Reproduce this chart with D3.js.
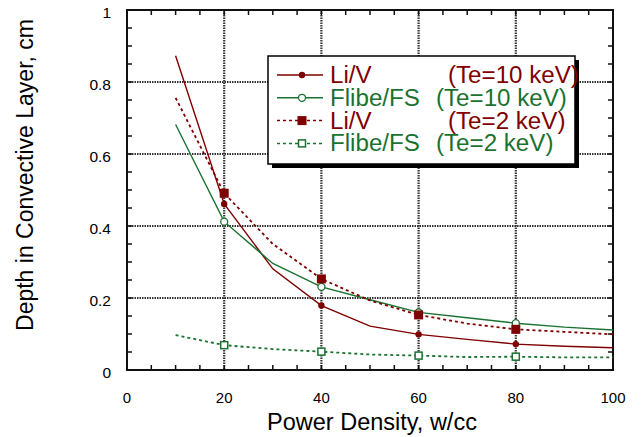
<!DOCTYPE html>
<html>
<head>
<meta charset="utf-8">
<script src="https://cdn.jsdelivr.net/npm/d3@7"></script>
<style>
  body { margin: 0; background: #fff; }
  text { font-family: "Liberation Sans", Arial, sans-serif; }
</style>
</head>
<body>
<div id="chart"></div>
<script>
// Data
const powerDensity = [10, 20, 30, 40, 50, 60, 70, 80, 90, 100];
const liV10 = [0.873, 0.461, 0.281, 0.179, 0.122, 0.099, 0.085, 0.072, 0.066, 0.062];
const flibe10 = [0.682, 0.412, 0.296, 0.231, 0.195, 0.160, 0.145, 0.130, 0.119, 0.111];
const liV2 = [0.756, 0.491, 0.350, 0.253, 0.193, 0.153, 0.129, 0.113, 0.106, 0.099];
const flibe2 = [0.097, 0.069, 0.058, 0.051, 0.043, 0.040, 0.036, 0.037, 0.035, 0.035];
const markerAt = [20, 40, 60, 80];

const xTicks = [0, 20, 40, 60, 80, 100];
const yTicks = [0, 0.2, 0.4, 0.6, 0.8, 1];
const yTickLabels = ["0", "0.2", "0.4", "0.6", "0.8", "1"];

const legendNames = ["Li/V", "Flibe/FS", "Li/V", "Flibe/FS"];
const legendTemps = ["(Te=10 keV)", "(Te=10 keV)", "(Te=2 keV)", "(Te=2 keV)"];

const red = "#7f0000";
const green = "#1a7230";

const series = [
  { values: liV10, color: red, dash: null, marker: "dot" },
  { values: flibe10, color: green, dash: null, marker: "ring" },
  { values: liV2, color: red, dash: "3,3", marker: "square" },
  { values: flibe2, color: green, dash: "3,3", marker: "box" }
];

// Chart dimensions
const W = 643, H = 437;
const margin = { top: 10, right: 30, bottom: 67, left: 127 };
const width = W - margin.left - margin.right;
const height = H - margin.top - margin.bottom;

const svg = d3.select("#chart").append("svg")
  .attr("width", W)
  .attr("height", H);

const g = svg.append("g")
  .attr("transform", `translate(${margin.left},${margin.top})`);

const x = d3.scaleLinear().domain([0, 100]).range([0, width]);
const y = d3.scaleLinear().domain([0, 1]).range([height, 0]);

// Dotted grid lines at the inner major ticks
const gridStyle = sel => sel.attr("stroke", "#333").attr("stroke-width", 2.2).attr("stroke-dasharray", "1.5,1");
g.selectAll(".vgrid").data(xTicks.slice(1, -1)).enter().append("line")
  .attr("x1", d => x(d)).attr("x2", d => x(d))
  .attr("y1", 0).attr("y2", height)
  .call(gridStyle);
g.selectAll(".hgrid").data(yTicks.slice(1, -1)).enter().append("line")
  .attr("x1", 0).attr("x2", width)
  .attr("y1", d => y(d)).attr("y2", d => y(d))
  .call(gridStyle);

// Minor ticks pointing inward on all four sides
const xMinor = d3.range(0, 101, 5);
const yMinor = d3.range(0, 1.001, 0.05);
const tl = 5;
g.selectAll(".xtb").data(xMinor).enter().append("line")
  .attr("x1", d => x(d)).attr("x2", d => x(d))
  .attr("y1", height).attr("y2", height - tl)
  .attr("stroke", "#111").attr("stroke-width", 1.5);
g.selectAll(".xtt").data(xMinor).enter().append("line")
  .attr("x1", d => x(d)).attr("x2", d => x(d))
  .attr("y1", 0).attr("y2", tl)
  .attr("stroke", "#111").attr("stroke-width", 1.5);
g.selectAll(".ytl").data(yMinor).enter().append("line")
  .attr("x1", 0).attr("x2", tl)
  .attr("y1", d => y(d)).attr("y2", d => y(d))
  .attr("stroke", "#111").attr("stroke-width", 1.5);
g.selectAll(".ytr").data(yMinor).enter().append("line")
  .attr("x1", width).attr("x2", width - tl)
  .attr("y1", d => y(d)).attr("y2", d => y(d))
  .attr("stroke", "#111").attr("stroke-width", 1.5);

// Plot frame
g.append("rect")
  .attr("x", 0).attr("y", 0)
  .attr("width", width).attr("height", height)
  .attr("fill", "none")
  .attr("stroke", "#111")
  .attr("stroke-width", 2);

// Tick labels
g.selectAll(".xlab").data(xTicks).enter().append("text")
  .attr("x", d => x(d))
  .attr("y", height + 33)
  .attr("text-anchor", "middle")
  .attr("font-size", 15)
  .text(d => d);
g.selectAll(".ylab").data(yTicks).enter().append("text")
  .attr("x", -16)
  .attr("y", d => y(d) + 8)
  .attr("text-anchor", "end")
  .attr("font-size", 15.5)
  .text((d, i) => yTickLabels[i]);

// Axis titles
svg.append("text")
  .attr("x", margin.left + width / 2 + 2)
  .attr("y", 430)
  .attr("text-anchor", "middle")
  .attr("font-size", 23.5)
  .text("Power Density, w/cc");
svg.append("text")
  .attr("transform", "translate(33,175) rotate(-90)")
  .attr("text-anchor", "middle")
  .attr("font-size", 23)
  .text("Depth in Convective Layer, cm");

// Series lines
const line = d3.line()
  .x((d, i) => x(powerDensity[i]))
  .y(d => y(d));

function drawMarker(sel, type, color) {
  if (type === "dot") {
    sel.append("circle").attr("r", 3.2).attr("fill", color);
  } else if (type === "ring") {
    sel.append("circle").attr("r", 3.5).attr("fill", "#fff").attr("stroke", color).attr("stroke-width", 1.3);
  } else if (type === "square") {
    sel.append("rect").attr("x", -4.5).attr("y", -4.5).attr("width", 9).attr("height", 9).attr("fill", color);
  } else {
    sel.append("rect").attr("x", -3.5).attr("y", -3.5).attr("width", 7).attr("height", 7)
      .attr("fill", "#fff").attr("stroke", color).attr("stroke-width", 1.5);
  }
}

series.forEach(s => {
  g.append("path")
    .attr("d", line(s.values))
    .attr("fill", "none")
    .attr("stroke", s.color)
    .attr("stroke-width", s.dash ? 1.8 : 1.4)
    .attr("stroke-dasharray", s.dash);
  markerAt.forEach(p => {
    const i = powerDensity.indexOf(p);
    const m = g.append("g").attr("transform", `translate(${x(p)},${y(s.values[i])})`);
    drawMarker(m, s.marker, s.color);
  });
});

// Legend box with drop shadow
const lg = svg.append("g").attr("transform", "translate(268,56)");
const lw = 307, lh = 108;
lg.append("rect").attr("x", 4).attr("y", 4).attr("width", lw).attr("height", lh).attr("fill", "#000");
lg.append("rect").attr("x", 0).attr("y", 0).attr("width", lw).attr("height", lh)
  .attr("fill", "#fff").attr("stroke", "#000").attr("stroke-width", 1.5);

series.forEach((s, i) => {
  const ry = 19 + i * 22.8;
  lg.append("line")
    .attr("x1", 9).attr("x2", 55)
    .attr("y1", ry).attr("y2", ry)
    .attr("stroke", s.color)
    .attr("stroke-width", s.dash ? 1.5 : 1.4)
    .attr("stroke-dasharray", s.dash);
  const m = lg.append("g").attr("transform", `translate(34,${ry})`);
  drawMarker(m, s.marker, s.color);
  // legend text is drawn slightly wider than tall, like the original
  lg.append("text")
    .attr("transform", `translate(62,${ry + 8}) scale(1.05,1)`)
    .attr("font-size", 23)
    .attr("fill", s.color)
    .text(legendNames[i]);
  lg.append("text")
    .attr("transform", `translate(${i % 2 === 0 ? 180 : 168},${ry + 8}) scale(1.05,1)`)
    .attr("font-size", 23)
    .attr("fill", s.color)
    .text(legendTemps[i]);
});
</script>
</body>
</html>
